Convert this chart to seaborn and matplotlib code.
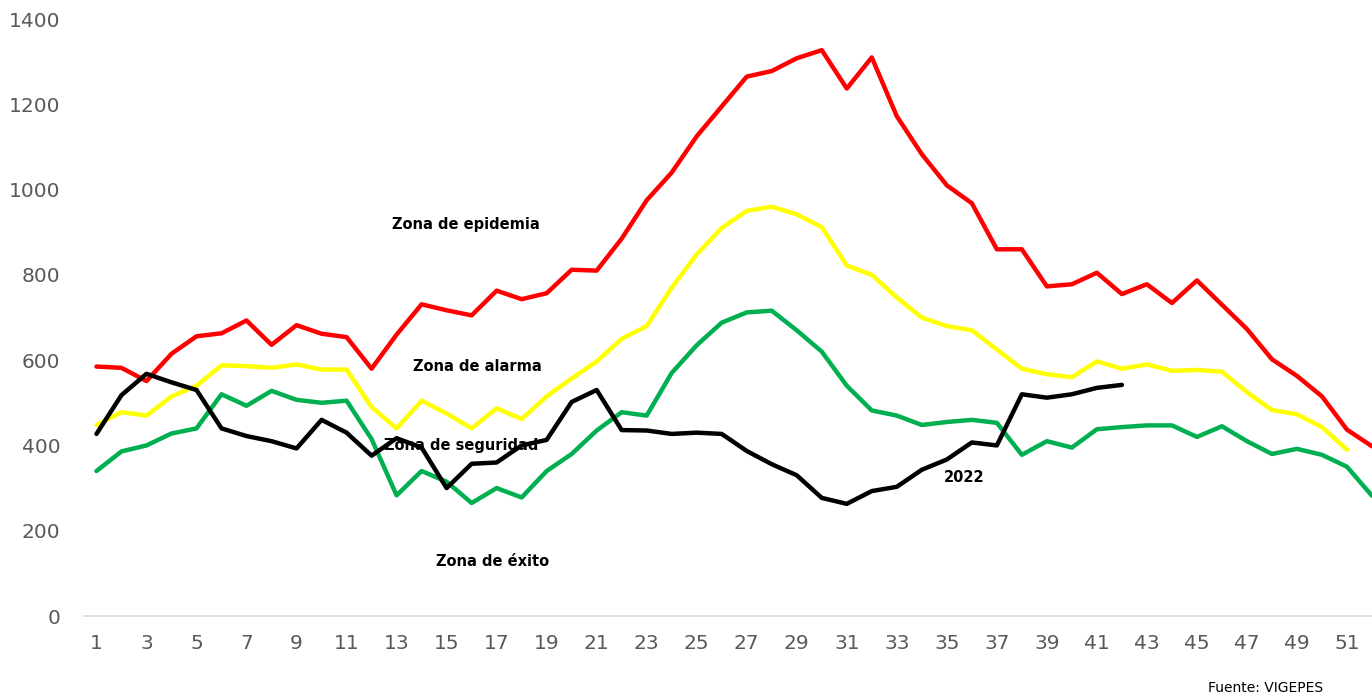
import numpy as np
import pandas as pd
import matplotlib
matplotlib.use('Agg')
import seaborn as sns
from matplotlib import pyplot as plt

# weekly values
epidemia = [585, 582, 551, 615, 656, 663, 693, 636, 682, 662, 654, 580, 660, 731, 717, 705,
            763, 743, 757, 812, 810, 885, 975, 1040, 1125, 1195, 1265, 1278, 1308, 1327, 1237,
            1310, 1172, 1083, 1010, 968, 860, 860, 773, 778, 805, 755, 778, 734, 787, 730, 673,
            602, 563, 515, 437, 398]
alarma = [448, 478, 470, 515, 540, 588, 586, 582, 590, 578, 578, 490, 440, 505, 475, 440,
          487, 462, 515, 557, 597, 650, 680, 770, 848, 910, 950, 960, 942, 912, 822, 800,
          747, 700, 680, 670, 625, 580, 567, 560, 597, 580, 590, 575, 577, 573, 525, 483,
          473, 443, 390]
seguridad = [340, 386, 400, 428, 440, 520, 493, 528, 507, 500, 505, 415, 283, 340, 315, 265,
             300, 278, 340, 380, 435, 478, 470, 570, 635, 688, 712, 716, 670, 620, 540, 482,
             470, 448, 455, 460, 453, 378, 410, 395, 438, 443, 447, 447, 420, 445, 410, 380,
             392, 378, 350, 282]
casos_2022 = [427, 518, 568, 548, 530, 440, 422, 410, 393, 460, 430, 376, 417, 395, 300, 357,
              360, 400, 413, 502, 530, 436, 435, 427, 430, 427, 387, 356, 330, 277, 263, 293,
              303, 343, 367, 407, 400, 520, 512, 520, 535, 542]
xticks = list(range(1, 52, 2))

def MakeFrame(values):
    return pd.DataFrame({'semana': range(1, len(values)+1), 'casos': values})

sns.set_style("white")
plt.rcParams['font.family'] = ['DejaVu Sans']

fig = plt.figure(figsize=(13.72, 6.97), dpi=100)
axe = fig.add_axes([0.0612, 0.1162, 0.9388, 0.8565])

lw = 3.2
sns.lineplot(data=MakeFrame(epidemia), x='semana', y='casos', color='#ff0000', linewidth=lw, ax=axe)
sns.lineplot(data=MakeFrame(alarma), x='semana', y='casos', color='#ffff00', linewidth=lw, ax=axe)
sns.lineplot(data=MakeFrame(seguridad), x='semana', y='casos', color='#00b050', linewidth=lw, ax=axe)
sns.lineplot(data=MakeFrame(casos_2022), x='semana', y='casos', color='#000000', linewidth=lw, ax=axe)

axe.set_xlim(0.5, 52)
axe.set_ylim(0, 1400)
axe.set_xticks(xticks)
axe.set_yticks(range(0, 1401, 200))
axe.tick_params(axis='both', length=0, labelsize=14.5, labelcolor='#595959')
axe.tick_params(axis='y', pad=17)
axe.tick_params(axis='x', pad=13)
axe.set_xlabel('')
axe.set_ylabel('')
for side in ['top', 'right', 'left']:
    axe.spines[side].set_visible(False)
axe.spines['bottom'].set_color('#d9d9d9')
axe.spines['bottom'].set_linewidth(1.2)

kw = dict(fontsize=10.5, fontweight='bold', ha='center', va='center', color='black')
axe.text(15.76, 917, 'Zona de epidemia', **kw)
axe.text(16.24, 586, 'Zona de alarma', **kw)
axe.text(15.6, 401, 'Zona de seguridad', **kw)
axe.text(16.84, 129, 'Zona de éxito', **kw)
axe.text(35.7, 324, '2022', **kw)
fig.text(1266/1372, 1-688/697, 'Fuente: VIGEPES', fontsize=10, ha='center', va='center', color='black')

plt.savefig('out.png', dpi=100)
